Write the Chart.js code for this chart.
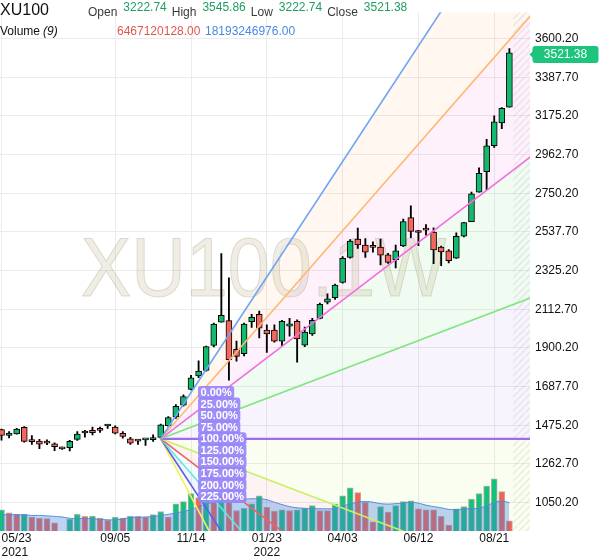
<!DOCTYPE html>
<html>
<head>
<meta charset="utf-8">
<script src="https://cdn.jsdelivr.net/npm/chart.js@4.4.0/dist/chart.umd.min.js"></script>
<style>
  html, body { margin: 0; padding: 0; background: #fff; }
</style>
</head>
<body>
<canvas id="chart" width="600" height="558"></canvas>
<script>
// weekly candles, index 0 = week of 2021-05-23
const tickIdx = [0, 15, 25, 35, 45, 55, 65];
const tickLabels = [["05/23", "2021"], "09/05", "11/14", ["01/23", "2022"], "04/03", "06/12", "08/21"];
const priceTicks = [1050.2, 1262.7, 1475.2, 1687.7, 1900.2, 2112.7, 2325.2, 2537.7, 2750.2, 2962.7, 3175.2, 3387.7, 3600.2];

const opens = [1451.0, 1418.8, 1427.4, 1463.3, 1391.9, 1388.1, 1380.0, 1373.6, 1350.6, 1352.2,
  1397.3, 1432.7, 1447.2, 1452.6, 1471.4, 1465.0, 1431.2, 1400.5, 1391.9, 1395.2,
  1396.2, 1408.0, 1472.4, 1520.8, 1585.2, 1672.7, 1746.3, 1776.3, 1914.3, 2041.6,
  2050.6, 1893.0, 1868.7, 2044.8, 2084.6, 1998.6, 1998.6, 1937.4, 2020.1, 2047.0,
  1915.9, 1977.2, 2063.0, 2152.2, 2175.8, 2259.6, 2397.5, 2497.9, 2465.7, 2456.6,
  2455.0, 2412.0, 2385.2, 2460.3, 2616.1, 2539.8, 2550.5, 2537.1, 2455.0, 2433.5,
  2393.8, 2514.0, 2594.6, 2755.7, 2868.4, 3011.2, 3136.9, 3222.74];
const highs = [1454.2, 1440.2, 1457.9, 1468.7, 1418.8, 1397.3, 1395.2, 1379.0, 1356.0, 1391.9,
  1440.2, 1447.2, 1465.0, 1465.0, 1479.5, 1472.5, 1440.2, 1409.6, 1395.2, 1398.9,
  1422.0, 1481.1, 1522.4, 1588.5, 1642.1, 1749.5, 1830.0, 1910.6, 2036.2, 2419.0,
  2284.8, 1937.4, 2036.2, 2084.6, 2102.3, 2027.1, 2027.1, 2052.3, 2063.0, 2054.0,
  2014.7, 2063.0, 2146.8, 2197.3, 2251.0, 2402.8, 2495.8, 2558.6, 2501.1, 2483.5,
  2497.9, 2420.6, 2465.7, 2608.6, 2680.6, 2546.3, 2578.5, 2560.2, 2460.3, 2440.5,
  2533.4, 2590.8, 2757.3, 2889.9, 3047.2, 3176.0, 3220.6, 3545.86];
const lows = [1393.5, 1405.9, 1425.8, 1382.8, 1370.5, 1346.8, 1368.3, 1336.1, 1342.6, 1334.5,
  1391.9, 1409.6, 1422.0, 1436.5, 1458.0, 1427.4, 1404.3, 1370.5, 1370.5, 1365.1,
  1386.5, 1401.0, 1468.7, 1513.3, 1579.8, 1668.9, 1737.1, 1773.1, 1905.2, 2041.6,
  1722.7, 1826.8, 1857.0, 2012.6, 1955.6, 1875.1, 1932.0, 1910.6, 1964.2, 1821.5,
  1907.3, 1969.6, 2059.3, 2141.5, 2166.6, 2256.4, 2393.7, 2447.5, 2397.5, 2426.0,
  2356.2, 2365.3, 2340.1, 2456.6, 2506.5, 2462.0, 2519.4, 2363.7, 2352.9, 2367.0,
  2392.1, 2510.4, 2594.6, 2755.7, 2769.6, 3002.6, 3104.6, 3222.74];
const closes = [1418.8, 1432.7, 1454.2, 1386.5, 1385.5, 1372.0, 1377.4, 1357.5, 1345.2, 1386.5,
  1427.4, 1443.4, 1434.8, 1447.2, 1474.1, 1431.2, 1413.4, 1377.4, 1388.1, 1397.3,
  1408.0, 1478.0, 1517.0, 1579.8, 1633.5, 1735.5, 1773.1, 1907.3, 2030.8, 2079.2,
  1835.9, 1853.7, 2030.8, 2068.5, 2009.4, 1977.2, 1937.4, 2047.0, 2032.4, 1950.3,
  1987.9, 2052.3, 2139.8, 2170.4, 2245.6, 2392.1, 2487.1, 2465.7, 2426.0, 2452.9,
  2409.9, 2370.7, 2433.5, 2594.6, 2540.9, 2534.5, 2547.9, 2438.9, 2428.2, 2379.8,
  2514.0, 2589.2, 2746.5, 2859.3, 3011.2, 3142.2, 3217.4, 3521.38];

// volume in billions
const volumes = [13.63, 11.74, 10.68, 10.86, 8.98, 8.35, 7.98, 5.21, 0, 7.72,
  10.68, 9.42, 9.61, 8.35, 6.91, 8.98, 8.35, 9.61, 9.42, 8.98,
  10.49, 12.56, 8.98, 17.40, 18.84, 24.05, 21.54, 22.61, 18.40, 23.86,
  18.40, 13.19, 14.63, 17.40, 22.61, 15.26, 12.75, 13.63, 13.19, 13.63,
  14.63, 16.33, 13.19, 13.06, 17.40, 22.61, 27.82, 24.68, 18.40, 5.84,
  15.70, 12.12, 16.33, 18.84, 19.47, 14.26, 13.63, 13.56, 9.42, 3.77,
  14.26, 15.70, 20.54, 24.05, 28.89, 33.47, 25.31, 6.47];
const volumeMA = [10.5, 10.5, 10.5, 10.4, 10.0, 10.0, 9.7, 9.4, 9.0, 8.2,
  8.0, 8.0, 7.85, 7.5, 7.2, 7.2, 7.85, 8.6, 8.8, 9.0,
  9.4, 10.0, 10.7, 11.6, 12.6, 13.8, 15.7, 17.3, 18.5, 19.5,
  19.8, 20.1, 20.4, 20.7, 20.7, 20.1, 18.5, 17.0, 15.7, 14.9,
  14.6, 14.4, 14.3, 14.3, 14.4, 16.0, 17.4, 18.5, 19.0, 18.5,
  17.6, 17.3, 17.6, 17.9, 18.5, 17.9, 16.6, 15.7, 14.9, 13.9,
  13.8, 14.1, 14.4, 14.6, 16.3, 18.2, 19.3, 18.19];

// fan: anchor points [week index, price]
const fanStart = [21, 1401];
const fanEnd = [25, 1655];
const fanLevels = [0, 0.25, 0.5, 0.75, 1, 1.25, 1.5, 1.75, 2, 2.25];
const fanColors = ["#6fa5f2", "#ffb870", "#f36ce0", "#7ee67c", "#9d6af0",
  "#c8f064", "#f26060", "#62e6de", "#5462ee", "#f8ee62"];
const fanFills = ["rgba(255,170,90,0.09)", "rgba(240,100,220,0.09)", "rgba(110,230,120,0.1)",
  "rgba(150,110,240,0.08)", "rgba(200,240,90,0.09)", "rgba(240,90,90,0.07)",
  "rgba(90,230,220,0.07)", "rgba(80,100,240,0.07)", "rgba(248,238,90,0.09)", "transparent"];

const FONT = "'Liberation Sans', Arial, sans-serif";
Chart.defaults.font.family = FONT;
Chart.defaults.font.size = 12;

const idx = opens.map((_, i) => i);
const upColor = "#13b96f";
const downColor = "#f4675c";

const fanPrice = (level, i) => {
  const p1 = fanEnd[1] - (fanEnd[1] - fanStart[1]) * level;
  return fanStart[1] + (p1 - fanStart[1]) * (i - fanStart[0]) / (fanEnd[0] - fanStart[0]);
};
const fanXs = [fanStart[0], 70];

const areaSets = fanLevels.map((lv, k) => ({
  type: "line",
  data: fanXs.map((x) => ({ x, y: fanPrice(lv, x) })),
  borderColor: "transparent",
  backgroundColor: fanFills[k],
  fill: k < fanLevels.length - 1 ? "+1" : false,
  pointRadius: 0,
  order: 30 + k,
  bgLayer: k === 0,
}));

const lineSets = fanLevels.map((lv, k) => ({
  type: "line",
  data: fanXs.map((x) => ({ x, y: fanPrice(lv, x) })),
  borderColor: fanColors[k],
  borderWidth: lv === 1 ? 2.2 : 1.6,
  fill: false,
  pointRadius: 0,
  order: 2,
}));

const datasets = [
  ...areaSets,
  {
    type: "bar",
    yAxisID: "vol",
    data: idx.map((i) => ({ x: i, y: volumes[i] })),
    backgroundColor: volumes.map((v, i) => (i === 0 || v >= volumes[i - 1] ? "#14c277" : "#f8614f")),
    borderColor: "rgba(150,150,150,0.75)",
    borderWidth: 1,
    barThickness: 6,
    grouped: false,
    order: 8,
  },
  {
    type: "line",
    yAxisID: "vol",
    data: idx.map((i) => ({ x: i, y: volumeMA[i] })),
    borderColor: "#4f8ae0",
    borderWidth: 1,
    backgroundColor: "rgba(70,130,220,0.35)",
    fill: "origin",
    tension: 0.4,
    pointRadius: 0,
    order: 7,
  },
  {
    type: "bar",
    data: idx.map((i) => ({ x: i, y: [lows[i], highs[i]] })),
    backgroundColor: "#000",
    borderWidth: 0,
    barThickness: 1.2,
    grouped: false,
    order: 5,
  },
  {
    type: "bar",
    data: idx.map((i) => ({ x: i, y: [opens[i], closes[i]] })),
    backgroundColor: idx.map((i) => (closes[i] >= opens[i] ? upColor : downColor)),
    borderColor: "#000",
    borderWidth: 1,
    borderSkipped: false,
    minBarLength: 2,
    barThickness: 6,
    grouped: false,
    order: 4,
  },
  ...lineSets,
];

// watermark and hatched future zone, drawn right after the fan fills
const backdropPlugin = {
  id: "backdrop",
  afterDatasetDraw(chart, args) {
    if (!chart.data.datasets[args.index].bgLayer) return;
    const { ctx, chartArea, scales } = chart;
    ctx.save();
    ctx.beginPath();
    ctx.rect(chartArea.left, chartArea.top, chartArea.width, chartArea.height);
    ctx.clip();

    const hx = scales.x.getPixelForValue(opens.length - 0.5);
    const pat = document.createElement("canvas");
    pat.width = 7;
    pat.height = 7;
    const p = pat.getContext("2d");
    p.strokeStyle = "rgba(170,170,170,0.22)";
    p.lineWidth = 1.5;
    p.beginPath();
    p.moveTo(-1, 8);
    p.lineTo(8, -1);
    p.stroke();
    ctx.fillStyle = ctx.createPattern(pat, "repeat");
    ctx.fillRect(hx, chartArea.top, chartArea.right - hx, chartArea.height);

    ctx.translate(263.5, 296);
    ctx.scale(0.9, 1);
    ctx.font = "84px " + FONT;
    ctx.textAlign = "center";
    ctx.textBaseline = "alphabetic";
    ctx.fillStyle = "rgba(195,185,150,0.26)";
    ctx.strokeStyle = "rgba(160,150,120,0.3)";
    ctx.lineWidth = 1;
    ctx.fillText("XU100.1W", 0, 0);
    ctx.strokeText("XU100.1W", 0, 0);
    ctx.restore();
  },
};

const overlayPlugin = {
  id: "overlay",
  afterDatasetsDraw(chart) {
    const { ctx, scales } = chart;
    // fan level labels
    ctx.save();
    ctx.font = "bold 11px " + FONT;
    ctx.textBaseline = "middle";
    const lx = scales.x.getPixelForValue(fanEnd[0]) + 7;
    fanLevels.forEach((lv) => {
      const ly = scales.y.getPixelForValue(fanPrice(lv, fanEnd[0]));
      const txt = (lv * 100).toFixed(2) + "%";
      const w = ctx.measureText(txt).width + 5;
      ctx.fillStyle = "rgba(150,132,248,0.9)";
      ctx.beginPath();
      ctx.roundRect(lx, ly - 6.5, w, 13, 3);
      ctx.fill();
      ctx.fillStyle = "#fff";
      ctx.fillText(txt, lx + 2.5, ly + 0.5);
    });
    ctx.restore();
  },
  afterDraw(chart) {
    const { ctx, scales, chartArea } = chart;
    ctx.save();
    // last price badge
    const last = closes[closes.length - 1];
    const by = scales.y.getPixelForValue(last) + 1.5;
    const bx = chartArea.right + 2.5;
    ctx.fillStyle = "#1cc47c";
    ctx.beginPath();
    ctx.roundRect(bx, by - 8.5, 66, 17, 3);
    ctx.fill();
    ctx.beginPath();
    ctx.moveTo(bx - 3, by);
    ctx.lineTo(bx + 1, by - 4);
    ctx.lineTo(bx + 1, by + 4);
    ctx.fill();
    ctx.fillStyle = "#fff";
    ctx.font = "12px " + FONT;
    ctx.textAlign = "center";
    ctx.textBaseline = "middle";
    ctx.fillText(last.toFixed(2), bx + 33, by + 0.5);

    // header legend
    ctx.textAlign = "left";
    ctx.textBaseline = "alphabetic";
    ctx.fillStyle = "#111";
    ctx.font = "16px " + FONT;
    ctx.fillText("XU100", 0, 15);
    const ohlc = [["Open", opens], ["High", highs], ["Low", lows], ["Close", closes]];
    let x = 88;
    ohlc.forEach(([name, arr]) => {
      ctx.font = "12px " + FONT;
      ctx.fillStyle = "#3a3a3a";
      ctx.fillText(name, x, 15.5);
      x += ctx.measureText(name).width + 6;
      const val = arr[arr.length - 1].toFixed(2);
      ctx.fillStyle = "#1f9d5e";
      ctx.fillText(val, x, 11);
      x += ctx.measureText(val).width + 5;
    });
    ctx.fillStyle = "#111";
    ctx.font = "12px " + FONT;
    ctx.fillText("Volume", 0, 35);
    ctx.font = "italic 12px " + FONT;
    ctx.fillText("(9)", 43, 35);
    ctx.font = "12px " + FONT;
    ctx.fillStyle = "#e0574f";
    ctx.fillText("6467120128.00", 117, 35);
    ctx.fillStyle = "#4a88e2";
    ctx.fillText("18193246976.00", 205, 35);
    ctx.restore();
  },
};

new Chart(document.getElementById("chart").getContext("2d"), {
  type: "bar",
  data: { datasets },
  options: {
    responsive: false,
    animation: false,
    devicePixelRatio: 1,
    events: [],
    layout: { padding: 0 },
    plugins: { legend: { display: false }, tooltip: { enabled: false } },
    scales: {
      x: {
        type: "linear",
        offset: false,
        min: -0.2,
        max: 69.72,
        bounds: "data",
        afterBuildTicks: (s) => {
          s.ticks = tickIdx.map((v) => ({ value: v })).concat([{ value: 69.72 }]);
        },
        afterFit: (s) => { s.height = 27; },
        ticks: {
          align: "inner",
          autoSkip: false,
          maxRotation: 0,
          padding: 0,
          color: "#111",
          callback: (v, i) => (i < tickLabels.length ? tickLabels[i] : ""),
        },
        grid: {
          offset: false,
          color: (c) => (c.index < tickIdx.length ? "#ebebeb" : "transparent"),
          drawTicks: false,
        },
        border: { display: false },
      },
      y: {
        position: "right",
        min: 894.2,
        max: 3745.16,
        bounds: "data",
        afterBuildTicks: (s) => {
          s.ticks = priceTicks.map((v) => ({ value: v }));
        },
        afterFit: (s) => { s.width = 70; },
        ticks: { padding: 5, color: "#111", callback: (v) => v.toFixed(2) },
        grid: { color: "#ebebeb", drawTicks: false },
        border: { display: false },
      },
      vol: { display: false, min: 0, max: 333.5 },
    },
  },
  plugins: [backdropPlugin, overlayPlugin],
});
</script>
</body>
</html>
